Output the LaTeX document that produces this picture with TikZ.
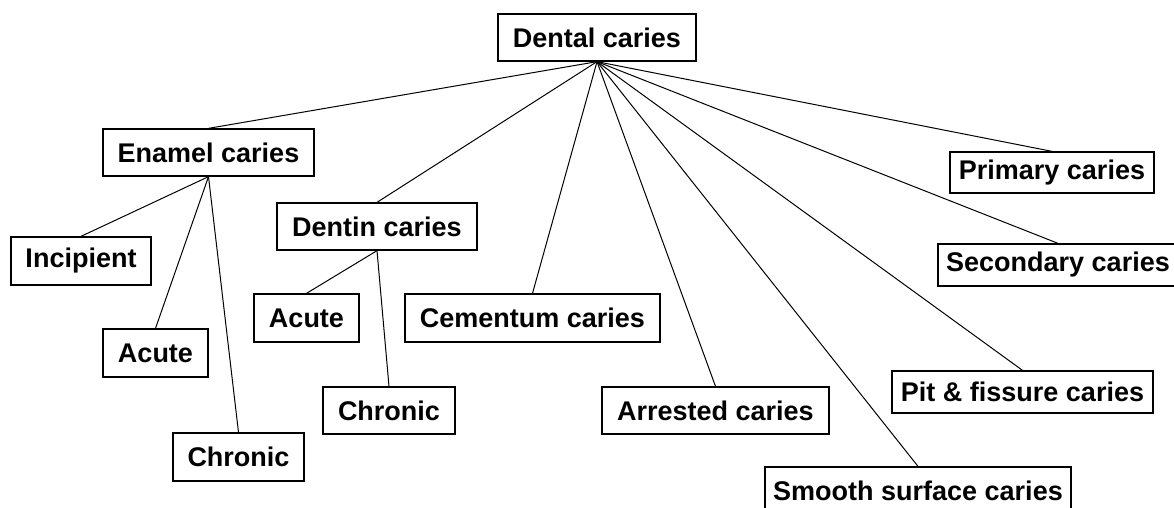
\documentclass[tikz,border=0pt]{standalone}
\usepackage{fontspec}
\setmainfont{Liberation Sans}
\begin{document}
\begin{tikzpicture}[x=1pt,y=-1pt,
  box/.style={draw=black,line width=1.3pt,inner sep=0pt,align=center,
    font=\fontsize{27}{32}\selectfont\bfseries},
  link/.style={draw=black,line width=1pt}]
\clip (0,0) rectangle (1174,507);
\fill[white] (0,0) rectangle (1174,507);
\node[box,minimum width=198pt,minimum height=47pt] (dental) at (597,37.5) {Dental caries};
\node[box,minimum width=211pt,minimum height=47pt] (enamel) at (208.5,152.5) {Enamel caries};
\node[box,minimum width=140pt,minimum height=48pt] (incip) at (81,261) {Incipient};
\node[box,minimum width=105pt,minimum height=48pt] (acuteL) at (155.5,353) {Acute};
\node[box,minimum width=131pt,minimum height=48pt] (chronL) at (238.5,457) {Chronic};
\node[box,minimum width=200pt,minimum height=47pt] (dentin) at (377,226.5) {Dentin caries};
\node[box,minimum width=105pt,minimum height=48pt] (acuteM) at (306.5,318) {Acute};
\node[box,minimum width=132pt,minimum height=47pt] (chronM) at (389,410.5) {Chronic};
\node[box,minimum width=255pt,minimum height=48pt] (cement) at (532.5,318) {Cementum caries};
\node[box,minimum width=227pt,minimum height=47pt] (arrest) at (715.5,410.5) {Arrested caries};
\node[box,minimum width=306pt,minimum height=48pt] (smooth) at (918,491) {Smooth surface caries};
\node[box,minimum width=261pt,minimum height=42pt] (pit) at (1022.5,392) {Pit \& fissure caries};
\node[box,minimum width=240pt,minimum height=42pt] (second) at (1058,265) {Secondary caries};
\node[box,minimum width=204pt,minimum height=41pt] (primary) at (1052,172.5) {Primary caries};
\foreach \c in {enamel,dentin,cement,arrest,smooth,pit,second,primary}
  \draw[link] (dental.south) -- (\c.north);
\foreach \c in {incip,acuteL,chronL}
  \draw[link] (enamel.south) -- (\c.north);
\foreach \c in {acuteM,chronM}
  \draw[link] (dentin.south) -- (\c.north);
\end{tikzpicture}
\end{document}
